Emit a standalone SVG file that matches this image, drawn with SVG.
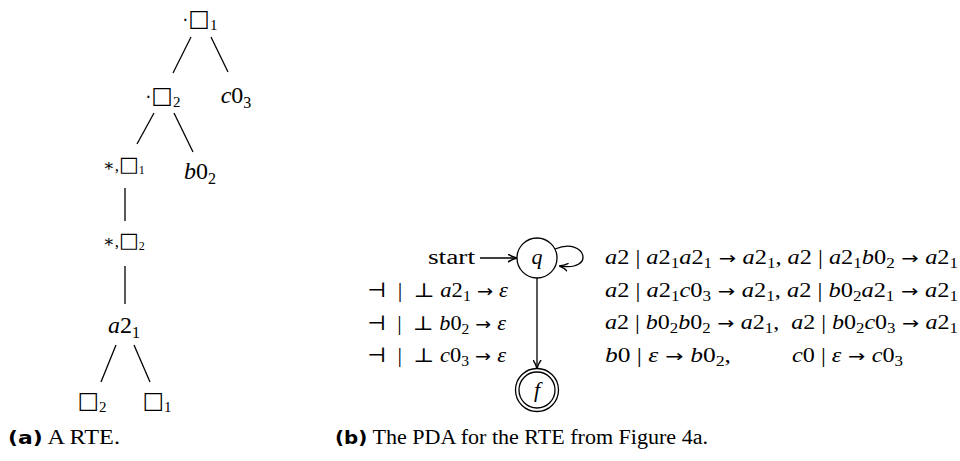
<svg xmlns="http://www.w3.org/2000/svg" width="960" height="461" viewBox="0 0 960 461">
<defs>
<style>
.m{font-family:"Liberation Serif","DejaVu Serif",serif;fill:#000}
.i{font-style:italic}
.cap{font-family:"Liberation Serif",serif;font-size:20px;fill:#000}
.b{font-family:"DejaVu Sans","Liberation Sans",sans-serif;font-weight:bold;font-size:18px}
.e{stroke:#000;stroke-width:1.3;fill:none}
.st{stroke:#000;stroke-width:1.3;fill:#fff}
.sq{font-family:"DejaVu Sans",sans-serif}
.ar{font-family:"DejaVu Sans",sans-serif;font-size:17px}
.s{font-size:14px}
</style>
<marker id="ar" viewBox="0 0 10 10" refX="9" refY="5" markerWidth="9" markerHeight="9" markerUnits="userSpaceOnUse" orient="auto">
<path d="M0,0.5 Q5,4 10,5 Q5,6 0,9.5" fill="none" stroke="#000" stroke-width="1.6"/>
</marker>
</defs>

<g id="tree-edges">
<line class="e" x1="191" y1="37" x2="173" y2="73"/>
<line class="e" x1="211" y1="37" x2="228" y2="72"/>
<line class="e" x1="154" y1="113" x2="137" y2="144"/>
<line class="e" x1="174" y1="113" x2="193" y2="152"/>
<line class="e" x1="125" y1="188" x2="125" y2="221"/>
<line class="e" x1="125" y1="266" x2="125" y2="304"/>
<line class="e" x1="116" y1="345" x2="101" y2="382"/>
<line class="e" x1="134" y1="345" x2="150" y2="382"/>
</g>

<g id="t-dot1"><text class="m" x="200" y="26" font-size="20" text-anchor="middle"><tspan class="sq" font-size="18">⋅</tspan><tspan class="sq" font-size="23">□</tspan><tspan font-size="15" dy="4">1</tspan></text></g>
<g id="t-c03"><text class="m" x="236" y="103" font-size="24" text-anchor="middle"><tspan class="i">c</tspan>0<tspan font-size="16" dy="5">3</tspan></text></g>
<g id="t-dot2"><text class="m" x="163" y="103" font-size="20" text-anchor="middle"><tspan class="sq" font-size="18">⋅</tspan><tspan class="sq" font-size="23">□</tspan><tspan font-size="15" dy="4">2</tspan></text></g>
<g id="t-star1"><text class="m" x="124" y="171" font-size="17" text-anchor="middle">∗,<tspan class="sq" font-size="21">□</tspan><tspan font-size="12" dy="3">1</tspan></text></g>
<g id="t-b02"><text class="m" x="200" y="179" font-size="24" text-anchor="middle"><tspan class="i">b</tspan>0<tspan font-size="16" dy="5">2</tspan></text></g>
<g id="t-star2"><text class="m" x="124" y="247" font-size="17" text-anchor="middle">∗,<tspan class="sq" font-size="21">□</tspan><tspan font-size="12" dy="3">2</tspan></text></g>
<g id="t-a21"><text class="m" x="124" y="333" font-size="24" text-anchor="middle"><tspan class="i">a</tspan>2<tspan font-size="16" dy="5">1</tspan></text></g>
<g id="t-box2"><text class="m" x="92" y="408" font-size="20" text-anchor="middle"><tspan class="sq" font-size="23">□</tspan><tspan font-size="15" dy="4">2</tspan></text></g>
<g id="t-box1"><text class="m" x="157" y="408" font-size="20" text-anchor="middle"><tspan class="sq" font-size="23">□</tspan><tspan font-size="15" dy="4">1</tspan></text></g>

<text class="cap" x="8" y="444" textLength="112" lengthAdjust="spacingAndGlyphs"><tspan class="b">(a)</tspan> A RTE.</text>

<g id="pda-edges">
<line class="e" x1="480" y1="258" x2="516" y2="258" marker-end="url(#ar)"/>
<line class="e" x1="537" y1="278" x2="537" y2="368" marker-end="url(#ar)"/>
<path class="e" d="M555,249 C586,236 596,272 560,266" marker-end="url(#ar)"/>
</g>

<g id="state-q">
<circle class="st" cx="537" cy="258" r="20"/>
<text class="m i" x="537" y="264" font-size="22" text-anchor="middle">q</text>
</g>
<g id="state-f">
<circle class="st" cx="537" cy="390" r="21.5"/>
<circle class="st" cx="537" cy="390" r="18"/>
<text class="m i" x="537" y="397" font-size="22" text-anchor="middle">f</text>
</g>

<g id="labels-left" class="m" font-size="20">
<text x="475" y="264" font-size="20" text-anchor="end" textLength="47" lengthAdjust="spacingAndGlyphs">start</text>
<text x="367" y="297" textLength="141" lengthAdjust="spacingAndGlyphs">⊣&#160;&#160;|&#160;&#160;⊥ <tspan class="i">a</tspan>2<tspan class="s" dy="4">1</tspan><tspan class="ar" dy="-4"> → </tspan><tspan class="i">ε</tspan></text>
<text x="367" y="330" textLength="139" lengthAdjust="spacingAndGlyphs">⊣&#160;&#160;|&#160;&#160;⊥ <tspan class="i">b</tspan>0<tspan class="s" dy="4">2</tspan><tspan class="ar" dy="-4"> → </tspan><tspan class="i">ε</tspan></text>
<text x="367" y="362" textLength="139" lengthAdjust="spacingAndGlyphs">⊣&#160;&#160;|&#160;&#160;⊥ <tspan class="i">c</tspan>0<tspan class="s" dy="4">3</tspan><tspan class="ar" dy="-4"> → </tspan><tspan class="i">ε</tspan></text>
</g>

<g id="labels-right" class="m" font-size="20">
<text x="605" y="264" textLength="353" lengthAdjust="spacingAndGlyphs"><tspan class="i">a</tspan>2 | <tspan class="i">a</tspan>2<tspan class="s" dy="4">1</tspan><tspan class="i" dy="-4">a</tspan>2<tspan class="s" dy="4">1</tspan><tspan class="ar" dy="-4"> → </tspan><tspan class="i">a</tspan>2<tspan class="s" dy="4">1</tspan><tspan dy="-4">, </tspan><tspan class="i">a</tspan>2 | <tspan class="i">a</tspan>2<tspan class="s" dy="4">1</tspan><tspan class="i" dy="-4">b</tspan>0<tspan class="s" dy="4">2</tspan><tspan class="ar" dy="-4"> → </tspan><tspan class="i">a</tspan>2<tspan class="s" dy="4">1</tspan></text>
<text x="605" y="297" textLength="353" lengthAdjust="spacingAndGlyphs"><tspan class="i">a</tspan>2 | <tspan class="i">a</tspan>2<tspan class="s" dy="4">1</tspan><tspan class="i" dy="-4">c</tspan>0<tspan class="s" dy="4">3</tspan><tspan class="ar" dy="-4"> → </tspan><tspan class="i">a</tspan>2<tspan class="s" dy="4">1</tspan><tspan dy="-4">, </tspan><tspan class="i">a</tspan>2 | <tspan class="i">b</tspan>0<tspan class="s" dy="4">2</tspan><tspan class="i" dy="-4">a</tspan>2<tspan class="s" dy="4">1</tspan><tspan class="ar" dy="-4"> → </tspan><tspan class="i">a</tspan>2<tspan class="s" dy="4">1</tspan></text>
<text x="605" y="329" textLength="353" lengthAdjust="spacingAndGlyphs"><tspan class="i">a</tspan>2 | <tspan class="i">b</tspan>0<tspan class="s" dy="4">2</tspan><tspan class="i" dy="-4">b</tspan>0<tspan class="s" dy="4">2</tspan><tspan class="ar" dy="-4"> → </tspan><tspan class="i">a</tspan>2<tspan class="s" dy="4">1</tspan><tspan dy="-4">,&#160; </tspan><tspan class="i">a</tspan>2 | <tspan class="i">b</tspan>0<tspan class="s" dy="4">2</tspan><tspan class="i" dy="-4">c</tspan>0<tspan class="s" dy="4">3</tspan><tspan class="ar" dy="-4"> → </tspan><tspan class="i">a</tspan>2<tspan class="s" dy="4">1</tspan></text>
<text x="605" y="362" textLength="126" lengthAdjust="spacingAndGlyphs"><tspan class="i">b</tspan>0 | <tspan class="i">ε</tspan><tspan class="ar"> → </tspan><tspan class="i">b</tspan>0<tspan class="s" dy="4">2</tspan><tspan dy="-4">,</tspan></text>
<text x="792" y="362" textLength="111" lengthAdjust="spacingAndGlyphs"><tspan class="i">c</tspan>0 | <tspan class="i">ε</tspan><tspan class="ar"> → </tspan><tspan class="i">c</tspan>0<tspan class="s" dy="4">3</tspan></text>
</g>

<text class="cap" x="335" y="444" textLength="373" lengthAdjust="spacingAndGlyphs"><tspan class="b">(b)</tspan> The PDA for the RTE from Figure 4a.</text>
</svg>
